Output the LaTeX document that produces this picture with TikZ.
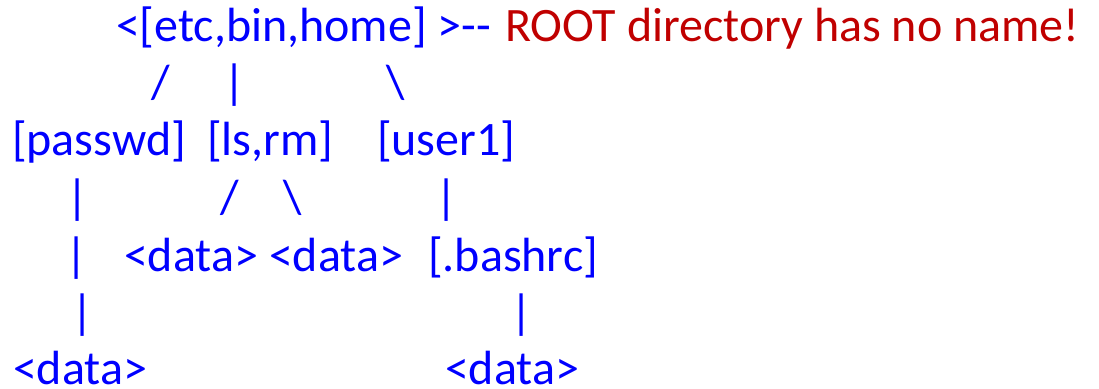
\documentclass[tikz,border=0pt]{standalone}
\usepackage{fontspec}
\setmainfont{Carlito}
\definecolor{rootred}{RGB}{192,0,0}
\begin{document}
\begin{tikzpicture}[x=0.5pt,y=-0.5pt,
  t/.style={anchor=base west, inner sep=0pt, outer sep=0pt, text=blue, font=\fontsize{24}{28}\selectfont},
  note/.style={t, text=rootred},
  bottomline/.style={t, text depth=0pt}]
\useasboundingbox (0,0) rectangle (1099,388);
% line 1
\node[t] (root) at (116,41) {<[etc,bin,home] >-{}-};
\node[note] (rootnote) at (505,41) {ROOT directory has no name!};
% line 2
\node[t] (c1) at (151,98.5) {/};
\node[t] (c2) at (223,98.5) {|};
\node[t] (c3) at (386,98.5) {\textbackslash};
% line 3
\node[t] (etc) at (12,155) {[passwd]};
\node[t] (bin) at (207,155) {[ls,rm]};
\node[t] (home) at (377,155) {[user1]};
% line 4
\node[t] (d1) at (67,213.5) {|};
\node[t] (d2) at (220,213.5) {/};
\node[t] (d3) at (283,213.5) {\textbackslash};
\node[t] (d4) at (435,213.5) {|};
% line 5
\node[t] (e1) at (65,271) {|};
\node[t] (ls) at (124,271) {<data>};
\node[t] (rm) at (269,271) {<data>};
\node[t] (bashrc) at (428,271) {[.bashrc]};
% line 6
\node[t] (f1) at (71,328.5) {|};
\node[t] (f2) at (510,328.5) {|};
% line 7
\node[bottomline] (passwd) at (13,384) {<data>};
\node[bottomline] (bashdata) at (445,384) {<data>};
\end{tikzpicture}
\end{document}
